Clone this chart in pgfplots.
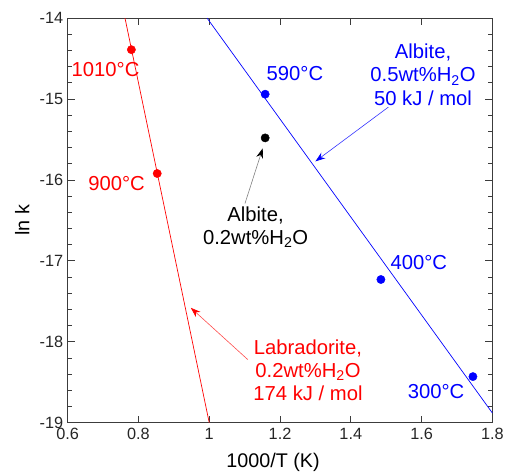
\documentclass[border=0pt]{standalone}
\usepackage{fontspec}
\setmainfont{Liberation Sans}
\usepackage{pgfplots}
\pgfplotsset{compat=1.18}
\usetikzlibrary{arrows.meta}

\definecolor{axgray}{RGB}{60,60,60}
\newcommand\ann{\fontsize{20.5}{23.5}\selectfont}

\begin{document}
\begin{tikzpicture}
\begin{axis}[
  scale only axis,
  width=428.7bp, height=408.4bp,
  xmin=0.6, xmax=1.8, ymin=-19, ymax=-14,
  xtick={0.6,0.8,1,1.2,1.4,1.6,1.8},
  xticklabels={0.6,0.8,1,1.2,1.4,1.6,1.8},
  ytick={-19,-18,-17,-16,-15,-14},
  yticklabels={-19,-18,-17,-16,-15,-14},
  minor y tick num=4,
  tick align=inside,
  major tick length=7bp, minor tick length=4bp,
  axis line style={axgray, line width=0.8pt},
  tick style={color=axgray, line width=0.8pt},
  tick label style={font=\fontsize{16.5}{18}\selectfont, text=black!85},
  xticklabel style={yshift=-2bp},
  yticklabel style={xshift=-1bp},
  xlabel={1000/T (K)}, ylabel={ln k},
  label style={font=\fontsize{20}{22}\selectfont},
  xlabel style={at={(rel axis cs:0.4837,-0.098)}, anchor=center},
  ylabel style={at={(rel axis cs:-0.107,0.5)}, anchor=center},
  clip=false,
]
\addplot[red, line width=0.7pt] coordinates {(0.762,-14) (1.0,-19)};
\addplot[blue, line width=0.7pt] coordinates {(0.994,-14) (1.8,-18.88)};
\addplot[only marks, mark=*, mark size=4.2bp, red] coordinates {(0.780,-14.39) (0.853,-15.92)};
\addplot[only marks, mark=*, mark size=4.2bp, blue] coordinates {(1.158,-14.94) (1.485,-17.23) (1.745,-18.43)};
\addplot[only marks, mark=*, mark size=4.2bp, black] coordinates {(1.158,-15.48)};

\node[red, font=\ann] at (axis cs:0.707,-14.63) {1010°C};
\node[red, font=\ann] at (axis cs:0.738,-16.05) {900°C};
\node[blue, font=\ann] at (axis cs:1.242,-14.68) {590°C};
\node[blue, font=\ann] at (axis cs:1.592,-17.02) {400°C};
\node[blue, font=\ann] at (axis cs:1.641,-18.61) {300°C};
\node[blue, font=\ann, align=center] at (axis cs:1.604,-14.70)
  {Albite,\\0.5wt\%H\textsubscript{2}O\\50 kJ / mol};
\node[black, font=\ann, align=center] at (axis cs:1.131,-16.58)
  {Albite,\\0.2wt\%H\textsubscript{2}O};
\node[red, font=\ann, align=center] at (axis cs:1.279,-18.35)
  {Labradorite,\\0.2wt\%H\textsubscript{2}O\\174 kJ / mol};

\draw[blue!80, line width=0.6pt, -{Stealth[length=10bp, width=7bp, blue]}]
  (axis cs:1.506,-15.10) -- (axis cs:1.300,-15.77);
\draw[gray, line width=0.6pt, -{Stealth[length=10bp, width=7bp, black]}]
  (axis cs:1.101,-16.29) -- (axis cs:1.151,-15.61);
\draw[red!70, line width=0.6pt, -{Stealth[length=10bp, width=7bp, red]}]
  (axis cs:1.109,-18.22) -- (axis cs:0.948,-17.58);
\end{axis}
\path ([xshift=-68.3bp,yshift=-50.3bp]current axis.south west)
  rectangle ([xshift=10bp,yshift=18.3bp]current axis.north east);
\end{tikzpicture}
\end{document}
